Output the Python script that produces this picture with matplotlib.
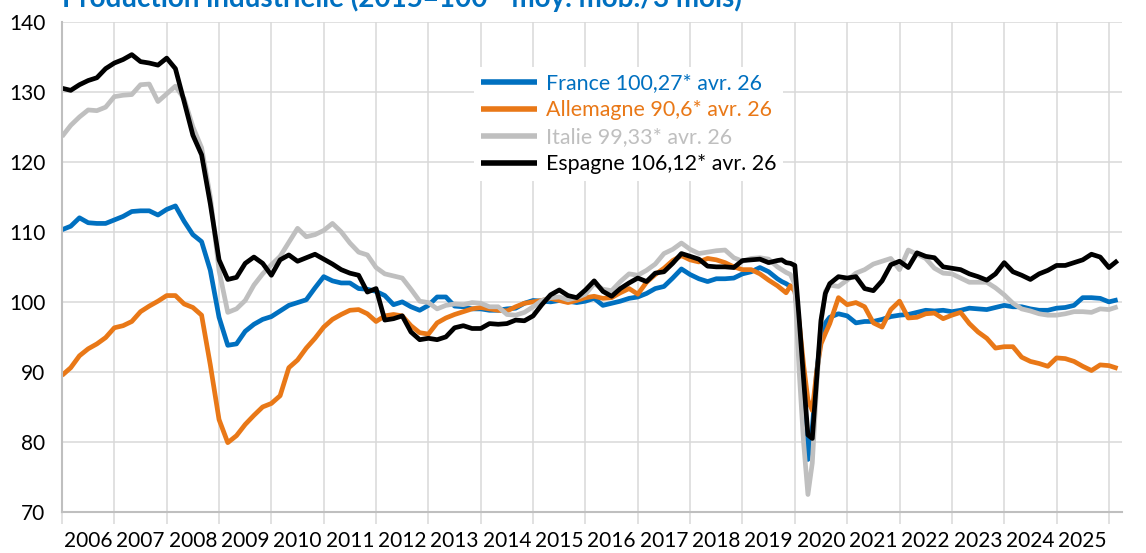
import numpy as np
import matplotlib.pyplot as plt
from matplotlib.ticker import FixedLocator, NullFormatter, FixedFormatter

plt.rcParams["font.family"] = ["Lato", "DejaVu Sans"]

# ── données ──
TITLE = "Production industrielle (2015=100 - moy. mob./3 mois)"

# mois depuis janv. 2006 (pas de 2 mois, mensuel autour du choc de 2020)
mois = list(range(0, 165, 2)) + list(range(165, 177)) + list(range(178, 243, 2))

france = [
    110.3, 110.8, 112.0, 111.3, 111.2, 111.2, 111.7, 112.2, 112.9, 113.0, 113.0, 112.4, 113.2, 113.7,
    111.5, 109.6, 108.6, 104.5, 97.8, 93.8, 94.0, 95.8, 96.8, 97.5, 97.9, 98.7, 99.5, 99.9, 100.3,
    102.0, 103.6,
    103.0, 102.7, 102.7, 101.9, 101.8, 101.5, 100.9, 99.6, 100.0, 99.3, 98.8, 99.5, 100.7, 100.7,
    99.4, 99.3, 99.0, 99.0, 98.8, 98.8, 99.0, 99.1, 99.8, 100.2, 100.1, 100.0, 100.2, 100.1, 99.9, 100.1,
    100.5, 99.5, 99.8, 100.1, 100.5, 100.7, 101.2, 101.9, 102.2, 103.4, 104.7, 103.9, 103.3, 102.9,
    103.3, 103.3, 103.4, 104.0, 104.3, 104.9, 104.3, 103.3,
    102.9, 102.6, 102.2, 101.8, 96.0, 86.0, 77.5, 82.0, 90.0, 95.0, 97.0, 97.8,
    98.3, 98.0, 97.0, 97.2, 97.2, 97.5, 97.9, 98.1, 98.2, 98.5, 98.8, 98.7, 98.8, 98.6, 98.8, 99.1,
    99.0, 98.9, 99.2, 99.5, 99.3, 99.3, 99.0, 98.8, 98.8, 99.1, 99.2, 99.5, 100.6, 100.6, 100.5,
    100.0, 100.3,
]

allemagne = [
    89.5, 90.6, 92.3, 93.3, 94.0, 94.9, 96.3, 96.6, 97.2, 98.6, 99.4, 100.1, 100.9, 100.9, 99.7,
    99.2, 98.1, 91.0, 83.2, 79.9, 80.9, 82.5, 83.8, 85.0, 85.5, 86.6, 90.6, 91.7, 93.4, 94.8, 96.4,
    97.5, 98.2, 98.8, 98.9, 98.3, 97.2, 98.0, 98.2, 98.0, 96.6, 95.6, 95.4, 97.0, 97.7, 98.2, 98.6,
    99.0, 99.2, 99.0, 98.8, 98.7, 99.3, 99.8, 100.0, 100.2, 100.5, 100.2, 99.9, 100.2, 100.6,
    100.8, 100.5, 100.6, 101.3, 101.9, 101.1, 102.8, 103.9, 104.8, 105.9, 106.6, 106.0, 105.7,
    106.2, 106.0, 105.6, 105.0, 104.6, 104.6, 104.0, 103.1, 102.3,
    101.8, 101.3, 102.3, 101.5, 97.0, 91.0, 86.0, 84.5, 90.0, 94.0, 95.5, 96.9,
    100.6, 99.6, 99.9, 99.3, 97.0, 96.4, 98.9, 100.1, 97.7, 97.8, 98.3, 98.4, 97.6, 98.1, 98.5,
    96.9, 95.7, 94.8, 93.4, 93.6, 93.6, 92.1, 91.5, 91.2, 90.8, 92.0, 91.9, 91.5, 90.8, 90.2,
    91.0, 90.9, 90.5,
]

italie = [
    123.6, 125.2, 126.4, 127.4, 127.3, 127.8, 129.3, 129.5, 129.6, 131.0, 131.1, 128.6, 129.7,
    130.8, 129.0, 125.0, 122.0, 115.0, 104.5, 98.5, 99.0, 100.2, 102.4, 104.0, 105.3, 106.5, 108.5,
    110.5, 109.3, 109.6, 110.2,
    111.2, 110.0, 108.4, 107.1, 106.7, 104.9, 104.0, 103.7, 103.4, 101.8, 100.1, 99.9, 99.0, 99.5,
    99.7, 99.6, 99.9, 99.8, 99.3, 99.3, 98.2, 98.1, 98.5, 99.3, 100.2, 100.6, 100.7, 100.3, 100.6,
    101.1,
    102.6, 101.8, 101.6, 102.9, 104.0, 103.8, 104.5, 105.4, 106.9, 107.5, 108.4, 107.5, 106.9,
    107.1, 107.3, 107.4, 106.3, 105.8, 106.2, 106.3, 106.1, 105.0,
    104.6, 104.2, 103.9, 102.5, 90.0, 80.0, 72.5, 77.0, 88.0, 97.0, 101.5, 102.4,
    102.2, 103.1, 104.1, 104.6, 105.4, 105.8, 106.2, 104.6, 107.4, 106.8, 106.2, 104.8, 104.1,
    104.0, 103.4, 102.8, 102.8, 102.8, 102.0, 101.0, 99.8, 99.0, 98.7, 98.3, 98.1, 98.1, 98.3,
    98.6, 98.6, 98.5, 99.0, 98.9, 99.3,
]

espagne = [
    130.5, 130.2, 131.0, 131.6, 132.0, 133.3, 134.1, 134.6, 135.3, 134.3, 134.1, 133.8, 134.8,
    133.3, 128.6, 123.8, 121.0, 114.0, 106.0, 103.2, 103.5, 105.5, 106.4, 105.5, 103.8, 106.0,
    106.7, 105.8, 106.3, 106.8, 106.1,
    105.4, 104.6, 104.1, 103.8, 101.4, 101.9, 97.4, 97.6, 98.0, 95.7, 94.6, 94.8, 94.6, 95.0,
    96.3, 96.6, 96.2, 96.2, 96.9, 96.8, 96.9, 97.4, 97.3, 98.0, 99.6, 101.0, 101.7, 100.9, 100.6,
    101.7,
    103.0, 101.5, 100.8, 101.9, 102.7, 103.4, 102.9, 104.1, 104.3, 105.5, 106.9, 106.5, 106.1,
    105.1, 105.0, 105.0, 104.9, 105.9, 106.0, 106.1, 105.6, 105.9,
    106.0, 105.6, 105.5, 105.2, 97.5, 89.0, 81.0, 80.5, 89.0, 97.4, 101.2, 102.6,
    103.6, 103.4, 103.6, 101.9, 101.6, 103.0, 105.3, 105.8, 104.9, 107.0, 106.5, 106.3, 105.0,
    104.8, 104.6, 104.0, 103.6, 103.1, 104.0, 105.6, 104.3, 103.8, 103.2, 104.0, 104.5, 105.2,
    105.2, 105.6, 106.0, 106.8, 106.4, 104.9, 105.9,
]

labels = [
    "France 100,27* avr. 26",
    "Allemagne 90,6* avr. 26",
    "Italie 99,33* avr. 26",
    "Espagne 106,12* avr. 26",
]
colors = ["#0070C0", "#E97817", "#BFBFBF", "#000000"]
annees = list(range(2006, 2027))
annees_lbl = list(range(2006, 2026))
y_ticks = [70, 80, 90, 100, 110, 120, 130, 140]

# ── figure ──
W, H = 1146, 553
fig = plt.figure(figsize=(W / 100, H / 100), dpi=100)
ax = fig.add_axes([62 / W, 1 - 512 / H, (1122 - 62) / W, (512 - 21.7) / H])

x = 2006 + np.array(mois) / 12.0
for serie, lab, col in zip([france, allemagne, italie, espagne], labels, colors):
    ax.plot(x, serie, color=col, lw=3.4, label=lab,
            solid_joinstyle="round", solid_capstyle="butt")

ax.set_xlim(2006, 2026.25)
ax.set_ylim(70, 140)

# axe X : quadrillage aux changements d'année, libellés au milieu
ax.xaxis.set_major_locator(FixedLocator(annees))
ax.xaxis.set_major_formatter(NullFormatter())
ax.xaxis.set_minor_locator(FixedLocator([a + 0.5 for a in annees_lbl]))
ax.xaxis.set_minor_formatter(FixedFormatter([str(a) for a in annees_lbl]))
ax.tick_params(axis="x", which="major", length=8.6, width=1.1, color="#D9D9D9", direction="out")
ax.tick_params(axis="x", which="minor", length=0, pad=14, labelsize=15, labelcolor="black")

ax.set_yticks(y_ticks)
ax.tick_params(axis="y", length=0, pad=12, labelsize=15, labelcolor="black")

ax.grid(True, which="major", color="#D9D9D9", lw=1.1)
ax.set_axisbelow(True)
for s in ["top", "right"]:
    ax.spines[s].set_visible(False)
for s in ["left", "bottom"]:
    ax.spines[s].set_color("#BFBFBF")
    ax.spines[s].set_linewidth(1.5)

leg = ax.legend(loc="upper left", bbox_to_anchor=(0.379, 0.93),
                frameon=True, facecolor="white", edgecolor="none", framealpha=1,
                fancybox=False, fontsize=15.4, handlelength=2.62, handletextpad=0.42,
                labelspacing=0.33, borderpad=0.3, labelcolor="linecolor")
for h in leg.get_lines():
    h.set_linewidth(4)

# titre (coupé en haut comme sur l'original)
fig.text(62 / W, 1 - 7 / H, TITLE, color="#0070C0", fontweight="bold",
         fontsize=20, ha="left", va="baseline")

fig.savefig("out.png", dpi=100)
